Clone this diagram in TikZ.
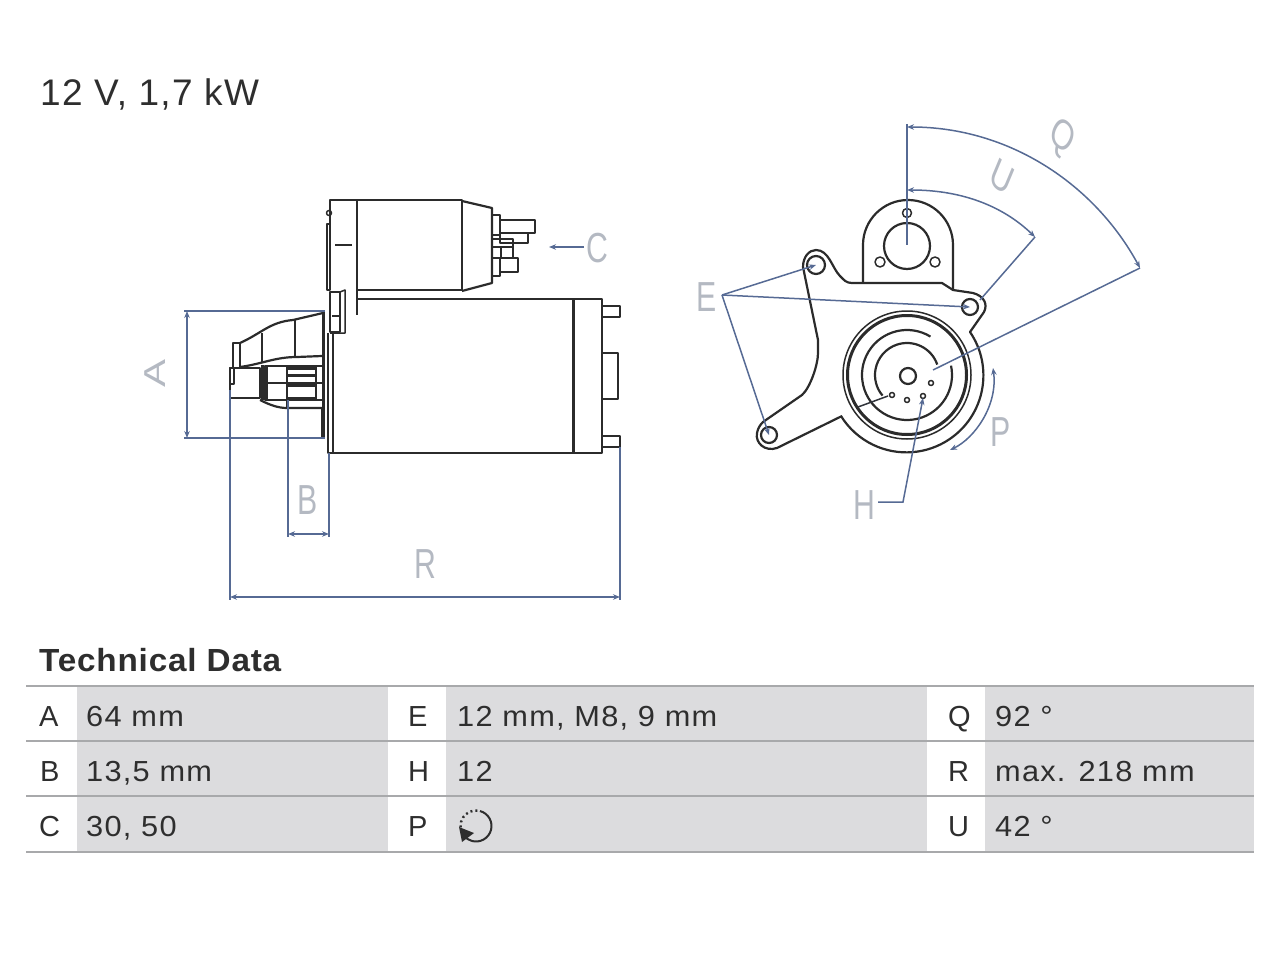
\documentclass[tikz,border=0pt]{standalone}
\usepackage{fontspec}
\usetikzlibrary{arrows.meta,calc}
\setmainfont{Liberation Sans}
\newfontfamily\tabfont[LetterSpace=4.3,FakeStretch=1.06]{Liberation Sans}
\newfontfamily\headfont[LetterSpace=3.5]{Liberation Sans}
\newfontfamily\titlefont[LetterSpace=2.5,FakeStretch=1.04]{Liberation Sans}
\definecolor{ink}{HTML}{2B2B2B}
\definecolor{dimblue}{HTML}{566A94}
\definecolor{lab}{HTML}{B4B9C2}
\definecolor{cell}{HTML}{DCDCDE}
\definecolor{rule}{HTML}{A8A9AB}
\definecolor{txt}{HTML}{2E2E2E}
\tikzset{
  x=1pt,y=-1pt,
  part/.style={draw=ink,line width=2.2pt,line join=round},
  thin part/.style={draw=ink,line width=1.5pt,line join=round},
  heavy part/.style={draw=ink,line width=3pt},
  dim/.style={draw=dimblue,line width=1.5pt},
  dimarrow/.style={dim,-{Stealth[length=7pt,width=5.5pt]}},
  dimboth/.style={dim,{Stealth[length=7pt,width=5.5pt]}-{Stealth[length=7pt,width=5.5pt]}},
  callout/.style={inner sep=0pt,text=lab,font=\fontsize{42}{42}\selectfont,xscale=.72},
  key/.style={inner sep=0pt,anchor=base west,text=txt,font=\fontsize{29}{29}\selectfont},
  val/.style={inner sep=0pt,anchor=base west,text=txt,font=\fontsize{29}{29}\selectfont\tabfont},
}
\begin{document}
\begin{tikzpicture}
\useasboundingbox (0,0) rectangle (1280,960);
% title
\node[inner sep=0pt,anchor=base west,text=txt,font=\fontsize{37}{37}\selectfont\headfont] (power) at (40,106) {12 V, 1,7 kW};

% ---- side view
\draw[part] (330,290) -- (330,200) -- (462,200) -- (462,290) -- (357,290);
\draw[part] (357,200) -- (357,315);
\draw[part] (357,299) -- (573,299);
\draw[part] (462,201) -- (492,208) -- (492,283) -- (462,291);
\draw[thin part] (492,215) rectangle (500,235);
\draw[thin part] (500,220) rectangle (535,233);
\draw[thin part] (500,233) rectangle (528,243);
\draw[thin part] (493,239) -- (513,239) -- (513,258) -- (493,258);
\draw[thin part] (493,247) -- (512,247);
\draw[thin part] (501,247) -- (501,258);
\draw[thin part] (492,258) rectangle (500,276);
\draw[thin part] (500,258) rectangle (518,272);
\draw[thin part] (327,224) rectangle (330,290);
\draw[thin part] (329,213) circle (2.5);
\draw[thin part] (335,245) -- (352,245);
\draw[thin part] (330,292) rectangle (340,332);
\draw[thin part] (340,292) -- (345,290) -- (345,333) -- (330,333);
\draw[thin part] (332,316) -- (340,316);
% motor body
\draw[part] (333,332) -- (333,453) -- (573,453);
\draw[part] (328,333) -- (328,453) -- (333,453);
\draw[heavy part] (323,312) -- (323,438);
\draw[part] (573,299) -- (602,299) -- (602,453) -- (573,453);
\draw[heavy part] (573,299) -- (573,453);
\draw[part] (602,306) rectangle (620,317);
\draw[part] (602,353) -- (618,353) -- (618,399) -- (602,399);
\draw[part] (602,436) rectangle (620,447);
% nose
\draw[part] (233,367) -- (233,343) -- (240,343) -- (240,367);
\draw[part] (240,343) .. controls (262,333) and (270,322) .. (293,320) -- (323,313);
\draw[part] (262,333) -- (262,363);
\draw[thin part] (295,320) -- (295,356);
\draw[part] (240,367) .. controls (262,364) and (275,357) .. (297,357) -- (322,356);
\draw[part] (230,368) rectangle (260,398);
\draw[thin part] (230,368) rectangle (234,384);
\draw[heavy part] (262,365) -- (262,400);
\draw[part] (265,366) rectangle (267,400);
\draw[part] (267,366) -- (322,366);
\draw[part] (267,400) -- (322,400);
\draw[heavy part] (288,368) -- (316,368);
\draw[heavy part] (288,375) -- (316,375);
\draw[heavy part] (288,385) -- (316,385);
\draw[heavy part] (288,398) -- (316,398);
\draw[thin part] (287,366) -- (287,408);
\draw[thin part] (316,366) -- (316,400);
\draw[thin part] (267,383) -- (322,383);
\draw[part] (260,400) .. controls (270,405) and (278,408) .. (287,408) -- (322,408);
\draw[heavy part] (322,408) -- (322,438);

% ---- end view
\draw[part] (863,283) -- (863,245) arc[start angle=180,end angle=360,radius=45] -- (953,290);
\draw[part] (907,246) circle (23);
\draw[thin part] (907,213) circle (4.5);
\draw[thin part] (880,262) circle (5);
\draw[thin part] (935,262) circle (5);
\draw[part] (803,267) .. controls (803,257) and (809,250) .. (816,250)
  .. controls (829,250) and (832,268) .. (840,276)
  .. controls (844,280) and (846,283) .. (852,283)
  -- (942,283) -- (953,290) -- (973,293)
  .. controls (984,296) and (988,304) .. (984,312)
  -- (970,332)
  arc[start angle=-34.3,end angle=148,radius=77];
\draw[part] (842,416) -- (777,448)
  .. controls (765,452) and (755,443) .. (757,433)
  .. controls (758,428) and (760,425) .. (763,422)
  -- (802,395) .. controls (810,388) and (818,365) .. (818,353)
  -- (818,340) -- (803,267);
\draw[part] (816,265) circle (9);
\draw[part] (970,307) circle (8);
\draw[part] (769,435) circle (8);
% concentric rings
\draw[thin part] (907,375) circle (64);
\draw[heavy part] (907,375) circle (59.5);
\draw[part] (907,375) ++(-58.6:45) arc[start angle=-58.6,end angle=-372,radius=45];
\draw[part] (907,375) ++(-19:32) arc[start angle=-19,end angle=-220,radius=32];
\draw[part] (908,376) circle (8);
\draw[thin part] (892,395) circle (2.5);
\draw[thin part] (907,400) circle (2.5);
\draw[thin part] (923,396) circle (2.5);
\draw[thin part] (931,383) circle (2.5);

% ---- dimension coordinates
\coordinate (aT) at (187,311);
\coordinate (aB) at (187,438);
\coordinate (aTe) at (325,311);
\coordinate (aBe) at (325,438);
\coordinate (bL) at (288,534);
\coordinate (bR) at (329,534);
\coordinate (rL) at (230,597);
\coordinate (rR) at (620,597);
\coordinate (cA) at (584,247);
\coordinate (cB) at (549,247);
\coordinate (qS) at (907,127);
\coordinate (qE) at (1140,268);
\coordinate (uS) at (907,190);
\coordinate (uE) at (1035,237);
\coordinate (hub) at (907,245);
\coordinate (top) at (907,124);
\coordinate (eV) at (722,295);
\coordinate (e1) at (816,265);
\coordinate (e2) at (970,307);
\coordinate (e3) at (769,435);

% ---- dimension lines
\draw[dim] (184,311) -- (aTe);
\draw[dim] (184,438) -- (aBe);
\draw[dimboth] (aT) -- (aB);
\draw[dim] (230,390) -- (230,600);
\draw[dim] (288,400) -- (288,537);
\draw[dim] (329,453) -- (329,537);
\draw[dimboth] (bL) -- (bR);
\draw[dim] (620,447) -- (620,600);
\draw[dimboth] (rL) -- (rR);
\draw[dimarrow] (cA) -- (cB);
\draw[dim] (top) -- (hub);
\draw[dimboth] (qE) .. controls (1095,185) and (1010,127) .. (qS);
\draw[dimboth] (uE) .. controls (1005,208) and (965,190) .. (uS);
\draw[dim] (uE) -- (980,300);
\draw[dim] (qE) -- (933,370);
\draw[dim,draw=ink!85!dimblue] (888,396) -- (858,407);
\draw[dimarrow] (eV) -- (e1);
\draw[dimarrow] (eV) -- (e2);
\draw[dimarrow] (eV) -- (e3);
\draw[dimboth] (950,450) .. controls (975,438) and (998,405) .. (993,368);
\coordinate (hA) at (923,398);
\coordinate (hK) at (903,502);
\coordinate (hE) at (878,502);
\draw[dim,{Stealth[length=7pt,width=5.5pt]}-] (hA) -- (hK) -- (hE);

% ---- callouts
\node[callout,rotate=90] (lA) at (155,373) {A};
\node[callout] (lB) at (308,500) {B};
\node[callout] (lC) at (597,248) {C};
\node[callout] (lR) at (425,564) {R};
\node[callout] (lE) at (707,297) {E};
\node[callout] (lH) at (864,505) {H};
\node[callout] (lP) at (1001,432) {P};
\node[callout,rotate=-30] (lU) at (1002,177) {U};
\node[callout,rotate=-35] (lQ) at (1062,138) {Q};

% ---- table
\node[inner sep=0pt,anchor=base west,text=txt,font=\fontsize{32}{32}\selectfont\bfseries\titlefont] (tech) at (39,671) {Technical Data};
\fill[cell] (77,686) rectangle (388,852);
\fill[cell] (446,686) rectangle (927,852);
\fill[cell] (985,686) rectangle (1254,852);
\foreach \yy in {686,741,796,852} \draw[rule,line width=2.5pt] (26,\yy) -- (1254,\yy);
\node[key] (kA) at (39,726) {A};
\node[val] (vA) at (86,726) {64 mm};
\node[key] (kB) at (40,781) {B};
\node[val] (vB) at (86,781) {13,5 mm};
\node[key] (kC) at (39,836) {C};
\node[val] (vC) at (86,836) {30, 50};
\node[key] (kE) at (408,726) {E};
\node[val] (vE) at (457,726) {12 mm, M8, 9 mm};
\node[key] (kH) at (408,781) {H};
\node[val] (vH) at (457,781) {12};
\node[key] (kP) at (408,836) {P};
\node[key] (kQ) at (948,726) {Q};
\node[val] (vQ) at (995,726) {92 °};
\node[key] (kR) at (948,781) {R};
\node[val] (vR) at (995,781) {max. 218 mm};
\node[key] (kU) at (948,836) {U};
\node[val] (vU) at (995,836) {42 °};
% rotation symbol
\draw[txt,line width=2pt] (476,826) ++(-75:15.5) arc[start angle=-75,end angle=140,radius=15.5];
\fill[txt] (459,827) -- (462,842) -- (474,833) -- cycle;
\draw[txt,line width=2.4pt,dash pattern=on 2pt off 3pt] (476,826) ++(-85:15.5) arc[start angle=-85,end angle=-185,radius=15.5];
\end{tikzpicture}
\end{document}
